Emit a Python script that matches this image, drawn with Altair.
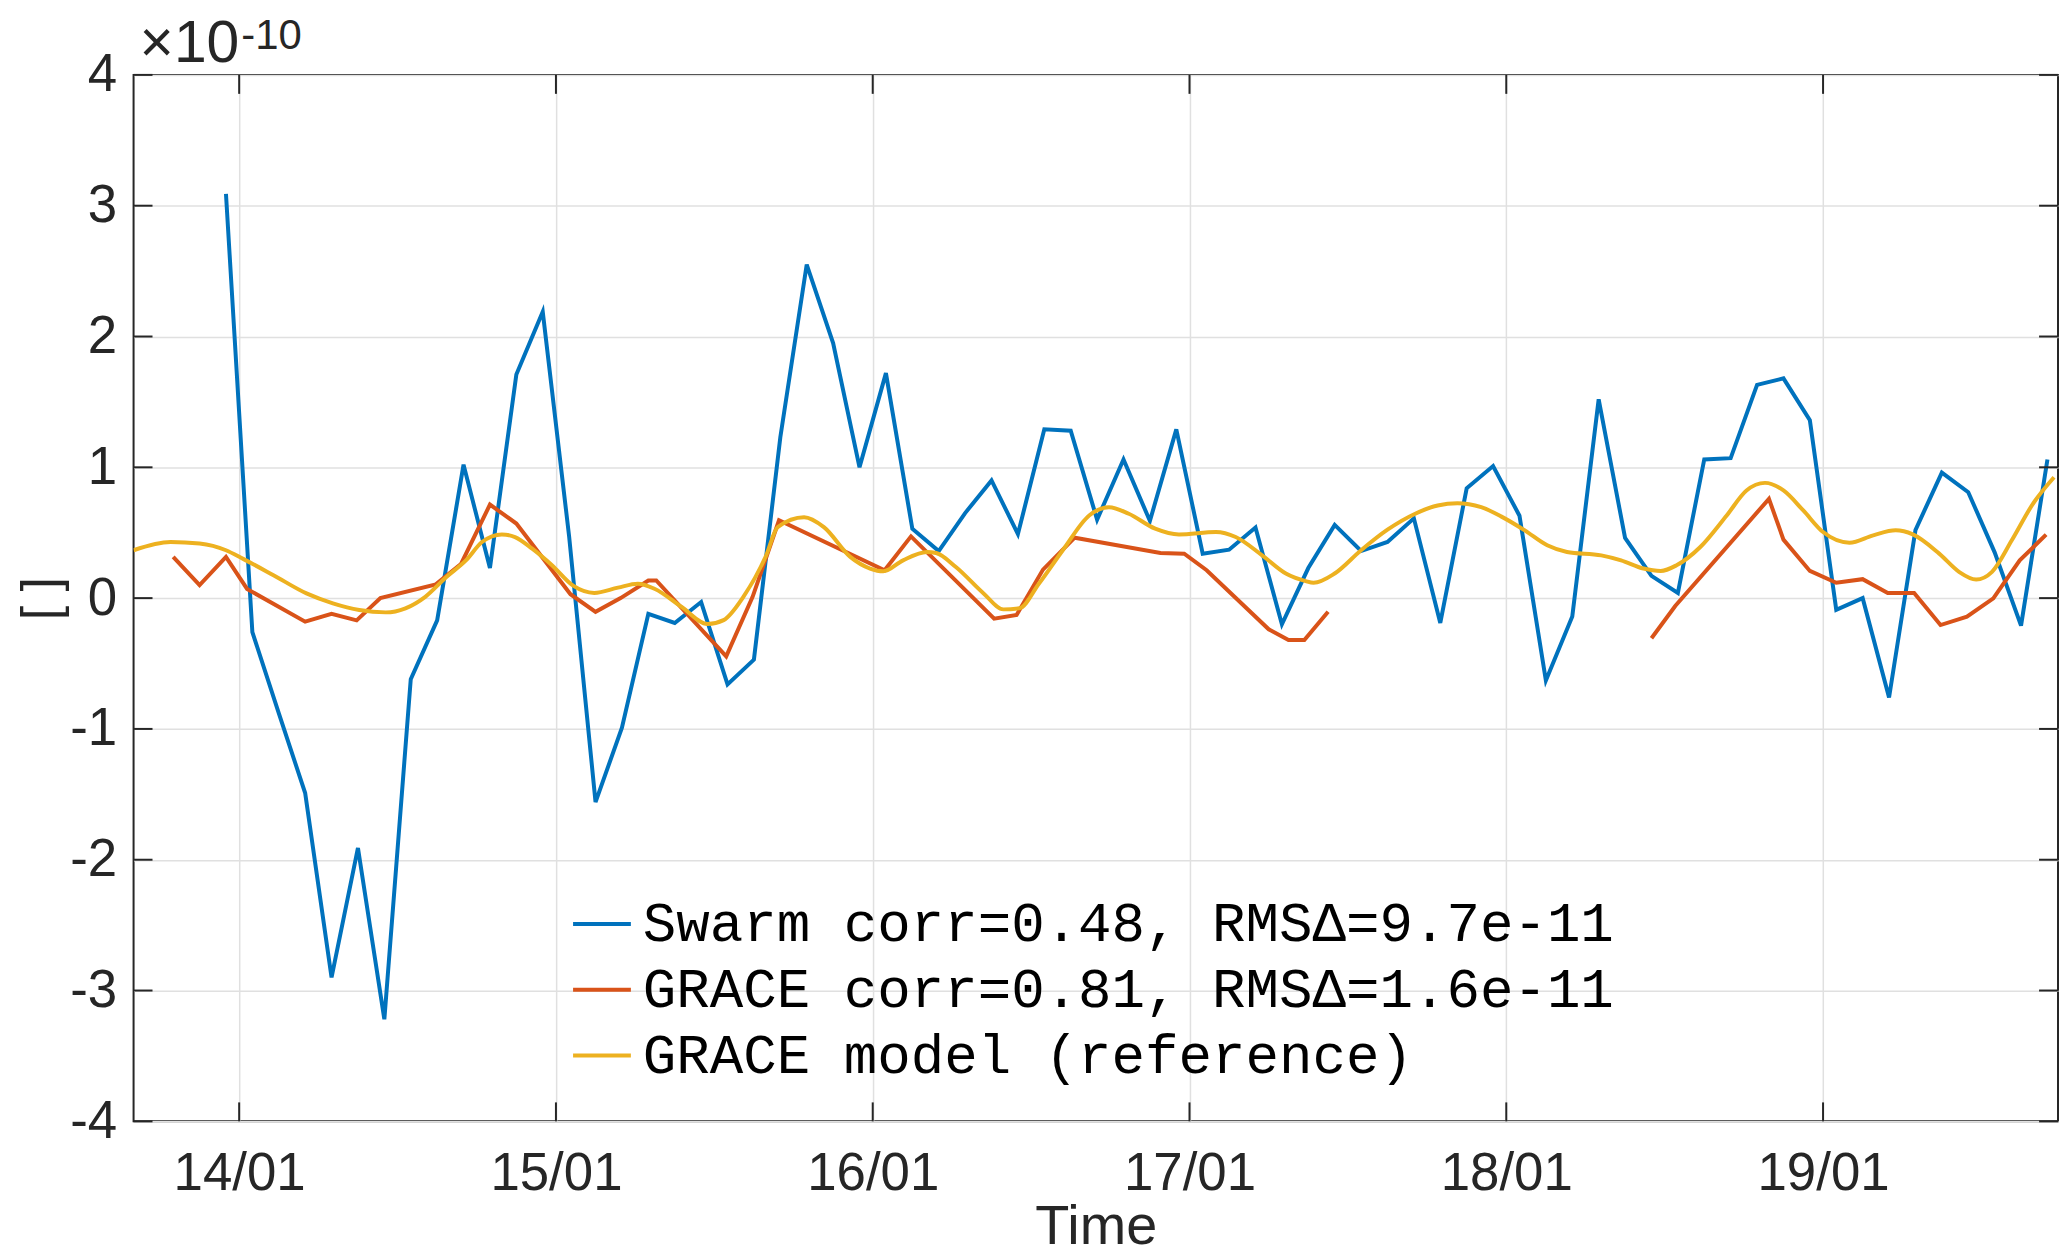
import altair as alt
import pandas as pd

# ---------------- data (values in units of 1e-10) ----------------
SERIES = ["Swarm corr=0.48, RMSΔ=9.7e-11",
          "GRACE corr=0.81, RMSΔ=1.6e-11",
          "GRACE model (reference)"]
COLORS = ["#0072BD", "#D95319", "#EDB120"]

BASE = pd.Timestamp("2015-01-14 00:00")

# Swarm: sampled every 2 h starting 13/01 23:00
swarm_start = "2015-01-13 23:00"
swarm_vals = [3.09, -0.26, -0.88, -1.49, -2.90, -1.91, -3.22, -0.62, -0.17, 1.02,
              0.23, 1.71, 2.19, 0.47, -1.56, -0.99, -0.12, -0.19, -0.03, -0.66,
              -0.47, 1.23, 2.55, 1.95, 1.00, 1.72, 0.53, 0.36, 0.65, 0.90,
              0.49, 1.29, 1.28, 0.60, 1.06, 0.59, 1.29, 0.34, 0.37, 0.54,
              -0.20, 0.23, 0.56, 0.36, 0.43, 0.61, -0.19, 0.84, 1.01, 0.63,
              -0.63, -0.14, 1.52, 0.46, 0.17, 0.04, 1.06, 1.07, 1.63, 1.68,
              1.36, -0.09, 0.00, -0.76, 0.52, 0.96, 0.81, 0.35, -0.21, 1.06]

# GRACE: hours after 14/01 00:00, two segments separated by a data gap
grace1_h = [-5.0, -3.0, -1.0, 0.6, 5.0, 7.0, 8.9, 10.7, 14.9, 16.8, 19.0, 21.0,
            25.1, 27.0, 28.9, 31.0, 31.6, 36.9, 38.9, 40.9, 48.9, 50.9, 57.2,
            58.9, 60.9, 63.3, 69.8, 71.6, 73.3, 78.0, 79.5, 80.7, 82.5]
grace1_v = [0.315, 0.10, 0.315, 0.07, -0.18, -0.12, -0.17, 0.00, 0.105, 0.26,
            0.715, 0.57, 0.03, -0.105, 0.00, 0.135, 0.135, -0.445, 0.01, 0.595,
            0.213, 0.472, -0.157, -0.129, 0.218, 0.462, 0.345, 0.34, 0.213,
            -0.238, -0.32, -0.32, -0.104]
grace2_h = [107.0, 108.8, 115.9, 117.0, 119.0, 121.0, 123.0, 124.9, 126.9,
            128.9, 130.9, 132.9, 134.9, 136.9]
grace2_v = [-0.307, -0.06, 0.759, 0.447, 0.208, 0.117, 0.145, 0.04, 0.04,
            -0.206, -0.142, -0.002, 0.289, 0.485]

# GRACE model (smooth reference curve)
model_h = [-8.0, -5.2, -3.0, -1.0, 0.3, 2.6, 5.1, 7.1, 9.1, 11.1,
           12.6, 14.1, 15.7, 17.2, 18.4, 19.9, 20.9, 22.2, 23.7, 25.3,
           26.9, 28.7, 30.2, 31.5, 33.5, 35.5, 36.7, 38.2, 39.9, 40.8,
           42.8, 44.3, 46.3, 47.8, 48.8, 50.3, 52.1, 52.8, 54.3, 56.4,
           57.9, 59.1, 60.6, 62.4, 64.4, 65.9, 67.4, 69.4, 71.2, 74.0,
           75.5, 77.5, 79.3, 80.8, 81.4, 83.0, 85.0, 87.0, 89.1, 90.8,
           92.3, 94.1, 95.6, 97.4, 99.1, 100.6, 103.2, 104.7, 106.4, 107.7,
           108.9, 110.7, 112.7, 114.2, 115.6, 117.0, 118.5, 120.0, 122.0, 123.8,
           125.5, 126.8, 128.8, 130.3, 131.6, 132.8, 134.3, 135.9, 137.5]
model_v = [0.366, 0.429, 0.417, 0.366, 0.30, 0.175, 0.036, -0.04, -0.091, -0.109,
           -0.078, 0.01, 0.162, 0.29, 0.429, 0.487, 0.467, 0.378, 0.251, 0.095,
           0.04, 0.08, 0.11, 0.07, -0.066, -0.198, -0.168, 0.01, 0.32, 0.543,
           0.619, 0.543, 0.315, 0.226, 0.205, 0.289, 0.353, 0.345, 0.238, 0.036,
           -0.086, -0.078, 0.112, 0.366, 0.632, 0.695, 0.645, 0.531, 0.487, 0.505,
           0.467, 0.327, 0.188, 0.13, 0.117, 0.188, 0.366, 0.523, 0.645, 0.708,
           0.726, 0.695, 0.625, 0.518, 0.404, 0.353, 0.327, 0.289, 0.226, 0.208,
           0.251, 0.391, 0.632, 0.823, 0.881, 0.823, 0.67, 0.505, 0.424, 0.48,
           0.518, 0.487, 0.34, 0.201, 0.142, 0.201, 0.442, 0.721, 0.924]

y_ticks = [-4, -3, -2, -1, 0, 1, 2, 3, 4]
day_ticks = [14, 15, 16, 17, 18, 19]


def iso(ts):
    return ts.strftime("%Y-%m-%dT%H:%M:%S")


def hours_to_iso(hs):
    return [iso(BASE + pd.Timedelta(hours=h)) for h in hs]


swarm_times = [iso(t) for t in pd.date_range(swarm_start, periods=len(swarm_vals), freq="2h")]

rows = []
for t, v in zip(swarm_times, swarm_vals):
    rows.append({"time": t, "value": v, "series": SERIES[0], "seg": "s"})
for t, v in zip(hours_to_iso(grace1_h), grace1_v):
    rows.append({"time": t, "value": v, "series": SERIES[1], "seg": "g1"})
for t, v in zip(hours_to_iso(grace2_h), grace2_v):
    rows.append({"time": t, "value": v, "series": SERIES[1], "seg": "g2"})
obs_df = pd.DataFrame(rows)

model_df = pd.DataFrame({"time": hours_to_iso(model_h), "value": model_v,
                         "series": SERIES[2], "seg": "m"})

ytick_df = pd.DataFrame({"value": y_ticks})
xtick_df = pd.DataFrame({"time": [iso(pd.Timestamp(2015, 1, d)) for d in day_ticks]})

# ---------------- layout / style ----------------
W, H = 1931, 1050
TICK = 19
AX = "#262626"
SANS = "Liberation Sans"
LW = 4

x_scale = alt.Scale(domain=[alt.DateTime(year=2015, month=1, date=13, hours=16),
                            alt.DateTime(year=2015, month=1, date=19, hours=17, minutes=48)])
y_scale = alt.Scale(domain=[-4, 4], nice=False)

x_axis = alt.Axis(values=[alt.DateTime(year=2015, month=1, date=d) for d in day_ticks],
                  format="%d/%m", title="Time", labelFont=SANS, labelFontSize=53,
                  labelColor=AX, labelPadding=26, ticks=False, domain=False,
                  grid=True, gridColor="#e0e0e0", gridWidth=1.5,
                  titleFont=SANS, titleFontSize=56, titleFontWeight="normal",
                  titleColor=AX, titlePadding=0, labelFlush=False)
y_axis = alt.Axis(values=y_ticks, title="[ ]",
                  labelExpr="datum.value < 0 ? '-' + abs(datum.value) : '' + datum.value",
                  labelFont=SANS, labelFontSize=53, labelColor=AX, labelPadding=17,
                  ticks=False, domain=False, grid=True, gridColor="#e0e0e0",
                  gridWidth=1.5, titleFont=SANS, titleFontSize=52,
                  titleFontWeight="normal", titleColor=AX, titlePadding=1)

legend = alt.Legend(title=None, orient="none", direction="vertical",
                    legendX=439, legendY=821, symbolType="stroke",
                    symbolSize=3364, symbolStrokeWidth=LW,
                    labelFont="Liberation Mono", labelFontSize=56,
                    labelColor="#000000", labelLimit=3000, rowPadding=7,
                    labelOffset=10, padding=0, symbolOffset=0)

color = alt.Color("series:N", scale=alt.Scale(domain=SERIES, range=COLORS),
                  legend=legend)

x_enc = alt.X("time:T", scale=x_scale, axis=x_axis)
y_enc = alt.Y("value:Q", scale=y_scale, axis=y_axis)

obs = alt.Chart(obs_df).mark_line(strokeWidth=LW, clip=True).encode(
    x=x_enc, y=y_enc, color=color, detail="seg:N")

model = alt.Chart(model_df).mark_line(strokeWidth=LW, clip=True,
                                      interpolate="monotone").encode(
    x=x_enc, y=y_enc, color=color)

tick_style = dict(color=AX, strokeWidth=2)
ytl = alt.Chart(ytick_df).mark_rule(**tick_style).encode(
    y=alt.Y("value:Q"), x=alt.value(0), x2=alt.value(TICK))
ytr = alt.Chart(ytick_df).mark_rule(**tick_style).encode(
    y=alt.Y("value:Q"), x=alt.value(W - TICK), x2=alt.value(W))
xtb = alt.Chart(xtick_df).mark_rule(**tick_style).encode(
    x=alt.X("time:T"), y=alt.value(H - TICK), y2=alt.value(H))
xtt = alt.Chart(xtick_df).mark_rule(**tick_style).encode(
    x=alt.X("time:T"), y=alt.value(0), y2=alt.value(TICK))

exp_base = alt.Chart(pd.DataFrame({"t": ["×10"]})).mark_text(
    align="left", baseline="alphabetic", font=SANS, fontSize=59, color=AX
).encode(x=alt.value(6), y=alt.value(-13), text="t:N")
exp_pow = alt.Chart(pd.DataFrame({"t": ["-10"]})).mark_text(
    align="left", baseline="alphabetic", font=SANS, fontSize=42, color=AX
).encode(x=alt.value(108), y=alt.value(-26), text="t:N")

chart = alt.layer(obs, model, ytl, ytr, xtb, xtt, exp_base, exp_pow).properties(
    width=W, height=H,
    padding={"left": 126, "top": 65, "right": 1, "bottom": 135},
    autosize=alt.AutoSizeParams(type="none"),
    background="white",
).configure_view(stroke=AX, strokeWidth=2)

chart.save("out.html", embed_options={"renderer": "svg", "actions": False})
